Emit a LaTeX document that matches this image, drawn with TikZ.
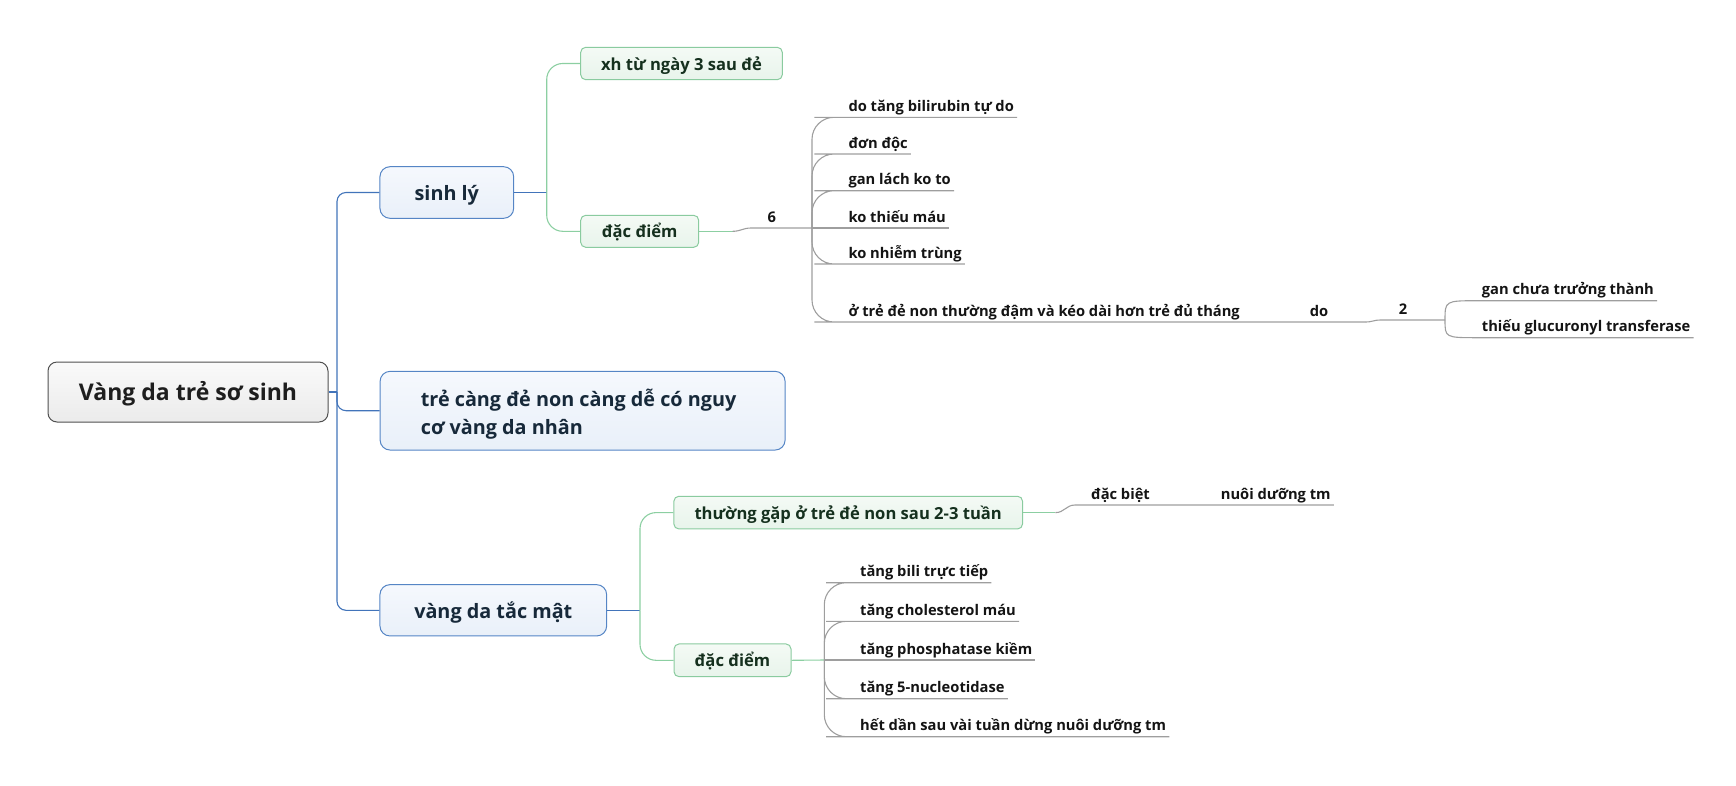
\documentclass[tikz,border=0pt]{standalone}
\usepackage{fontspec}
\setmainfont{Open Sans}
\usetikzlibrary{calc}
\definecolor{bline}{HTML}{4274BA}
\definecolor{gline}{HTML}{8CCFA2}
\definecolor{kline}{HTML}{9E9E9E}
\definecolor{rootdraw}{HTML}{505050}
\definecolor{roottop}{HTML}{FAFAFA}
\definecolor{rootbot}{HTML}{EBEBEB}
\definecolor{maindraw}{HTML}{5585C5}
\definecolor{maintop}{HTML}{F5F8FD}
\definecolor{mainbot}{HTML}{E9F0F9}
\definecolor{subdraw}{HTML}{8ACB9F}
\definecolor{subtop}{HTML}{F4FAF5}
\definecolor{subbot}{HTML}{E8F4EB}
\definecolor{roottxt}{HTML}{1E1E1E}
\definecolor{maintxt}{HTML}{17293A}
\definecolor{subtxt}{HTML}{15301E}
\definecolor{leaftxt}{HTML}{141414}
\tikzset{
  rootbox/.style={draw=rootdraw, line width=1pt, rounded corners=9pt,
    top color=roottop, bottom color=rootbot, inner sep=0pt,
    minimum width=280pt, minimum height=60pt, text height=24.6pt, text depth=6.7pt,
    font=\fontsize{23}{28}\selectfont\bfseries, text=roottxt},
  mainbox/.style={draw=maindraw, line width=1pt, rounded corners=10pt,
    top color=maintop, bottom color=mainbot, inner sep=0pt,
    font=\fontsize{19.8}{27.4}\selectfont\bfseries, text=maintxt},
  mainline/.style={mainbox, text height=21.2pt, text depth=5.8pt},
  subbox/.style={draw=subdraw, line width=1pt, rounded corners=5pt,
    top color=subtop, bottom color=subbot, inner sep=0pt,
    text height=17.8pt, text depth=4.8pt,
    font=\fontsize{16.6}{20}\selectfont\bfseries, text=subtxt},
  leaf/.style={inner sep=0pt, font=\fontsize{14.7}{18}\selectfont\bfseries, text=leaftxt},
  bconn/.style={draw=bline, line width=1.1pt},
  gconn/.style={draw=gline, line width=1.1pt},
  kconn/.style={draw=kline, line width=1.1pt},
}
\begin{document}
\begin{tikzpicture}[x=1pt,y=-1pt]
\useasboundingbox (0,0) rectangle (1736,785);

% ---------- boxes ----------
\node[rootbox] (root) at (188,392) {Vàng da trẻ sơ sinh};
\node[mainline, minimum width=133.7pt, minimum height=51.6pt] (A) at (446.8,192.5) {sinh lý};
\node[mainbox, minimum width=405pt, minimum height=78.7pt, align=left] (B) at (582.6,410.7) {\rule{0pt}{24pt}trẻ càng đẻ non càng dễ có nguy\hspace*{8pt}\\cơ vàng da nhân};
\node[mainline, minimum width=226.7pt, minimum height=51.3pt] (C) at (493.3,610.3) {vàng da tắc mật};

\node[subbox, minimum width=201.6pt, minimum height=32.4pt] (A1) at (681.5,63.5) {xh từ ngày 3 sau đẻ};
\node[subbox, minimum width=118pt, minimum height=32pt] (A2) at (639.7,231.3) {đặc điểm};
\node[subbox, minimum width=348.7pt, minimum height=32.7pt] (C1) at (848.2,512.6) {thường gặp ở trẻ đẻ non sau 2-3 tuần};
\node[subbox, minimum width=117pt, minimum height=32.7pt] (C2) at (732.5,660.3) {đặc điểm};

% ---------- hubs ----------
\coordinate (hubR) at (337,392);
\coordinate (hubA) at (546.7,192.5);
\coordinate (hubC) at (640,610.3);
\coordinate (A2s) at (732.7,231.3);
\coordinate (sixL) at (751,228);
\coordinate (hub6) at (812,228);
\coordinate (doR) at (1365,322);
\coordinate (twoL) at (1381,320);
\coordinate (hub2) at (1445,320);
\coordinate (C1s) at (1055.4,512.6);
\coordinate (dbL) at (1075,505);
\coordinate (hubD) at (824.3,660);

% ---------- leaves ----------
\node[leaf, anchor=base] (six) at (771.7,222.5) {6};
\node[leaf, anchor=base west] (L1) at (848.3,111.3) {do tăng bilirubin tự do};
\node[leaf, anchor=base west] (L2) at (848.3,148) {đơn độc};
\node[leaf, anchor=base west] (L3) at (848.3,184.7) {gan lách ko to};
\node[leaf, anchor=base west] (L4) at (848.3,222) {ko thiếu máu};
\node[leaf, anchor=base west] (L5) at (848.3,258) {ko nhiễm trùng};
\node[leaf, anchor=base west] (L6) at (848.3,316) {ở trẻ đẻ non thường đậm và kéo dài hơn trẻ đủ tháng};
\node[leaf, anchor=base] (do) at (1319,316) {do};
\node[leaf, anchor=base] (two) at (1403,314) {2};
\node[leaf, anchor=base west] (G1) at (1481.7,294.7) {gan chưa trưởng thành};
\node[leaf, anchor=base west] (G2) at (1481.7,331.7) {thiếu glucuronyl transferase};
\node[leaf, anchor=base west] (db) at (1091,499) {đặc biệt};
\node[leaf, anchor=base west] (nd) at (1220.7,499) {nuôi dưỡng tm};
\node[leaf, anchor=base west] (D1) at (860,576.7) {tăng bili trực tiếp};
\node[leaf, anchor=base west] (D2) at (860,615.3) {tăng cholesterol máu};
\node[leaf, anchor=base west] (D3) at (860,654) {tăng phosphatase kiềm};
\node[leaf, anchor=base west] (D4) at (860,692.7) {tăng 5-nucleotidase};
\node[leaf, anchor=base west] (D5) at (860,730.7) {hết dần sau vài tuần dừng nuôi dưỡng tm};

\coordinate (G1L) at ([xshift=-3pt,yshift=-6pt]G1.base west);
\coordinate (G1R) at ([xshift=3pt,yshift=-6pt]G1.base east);
\coordinate (G2L) at ([xshift=-3pt,yshift=-6pt]G2.base west);
\coordinate (G2R) at ([xshift=3pt,yshift=-6pt]G2.base east);

% ---------- connectors ----------
\draw[bconn] (root.east) -- (hubR);
\foreach \n in {A,B,C} \draw[bconn, rounded corners=9pt] (hubR) |- (\n.west);

\draw[bconn] (A.east) -- (hubA);
\foreach \n in {A1,A2} \draw[gconn, rounded corners=16pt] (hubA) |- (\n.west);

\draw[bconn] (C.east) -- (hubC);
\foreach \n in {C1,C2} \draw[gconn, rounded corners=16pt] (hubC) |- (\n.west);

% đặc điểm -> 6 -> six leaves
\draw[gconn] (A2.east) -- (A2s);
\draw[kconn] (A2s) .. controls +(8,0) and +(-8,0) .. (sixL) -- (hub6);
\foreach \n in {L1,L2,L3,L5}
  \draw[kconn, rounded corners=22pt] (hub6) |- ([xshift=-12pt,yshift=-6pt]\n.base west) -- ([xshift=3pt,yshift=-6pt]\n.base east);
\draw[kconn] (hub6) -- ([xshift=3pt,yshift=-6pt]L4.base east);
\draw[kconn, rounded corners=22pt] (hub6) |- ([xshift=-12pt,yshift=-6pt]L6.base west) -- (doR);

% do -> 2 -> two leaves
\draw[kconn] (doR) .. controls +(8,0) and +(-8,0) .. (twoL) -- (hub2);
\draw[kconn] (hub2) .. controls (hub2 |- G1L) .. (G1L) -- (G1R);
\draw[kconn] (hub2) .. controls (hub2 |- G2L) .. (G2L) -- (G2R);

% thường gặp -> đặc biệt -> nuôi dưỡng tm
\draw[gconn] (C1.east) -- (C1s);
\draw[kconn] (C1s) .. controls +(9,0) and +(-9,0) .. (dbL) -- ([xshift=3pt,yshift=-6pt]nd.base east);

% đặc điểm -> five leaves
\draw[gconn] (C2.east) -- (hubD);
\foreach \n in {D1,D2,D4,D5}
  \draw[kconn, rounded corners=22pt] (hubD) |- ([xshift=-12pt,yshift=-6pt]\n.base west) -- ([xshift=3pt,yshift=-6pt]\n.base east);
\draw[kconn] (hubD) -- ([xshift=3pt,yshift=-6pt]D3.base east);
\end{tikzpicture}
\end{document}
